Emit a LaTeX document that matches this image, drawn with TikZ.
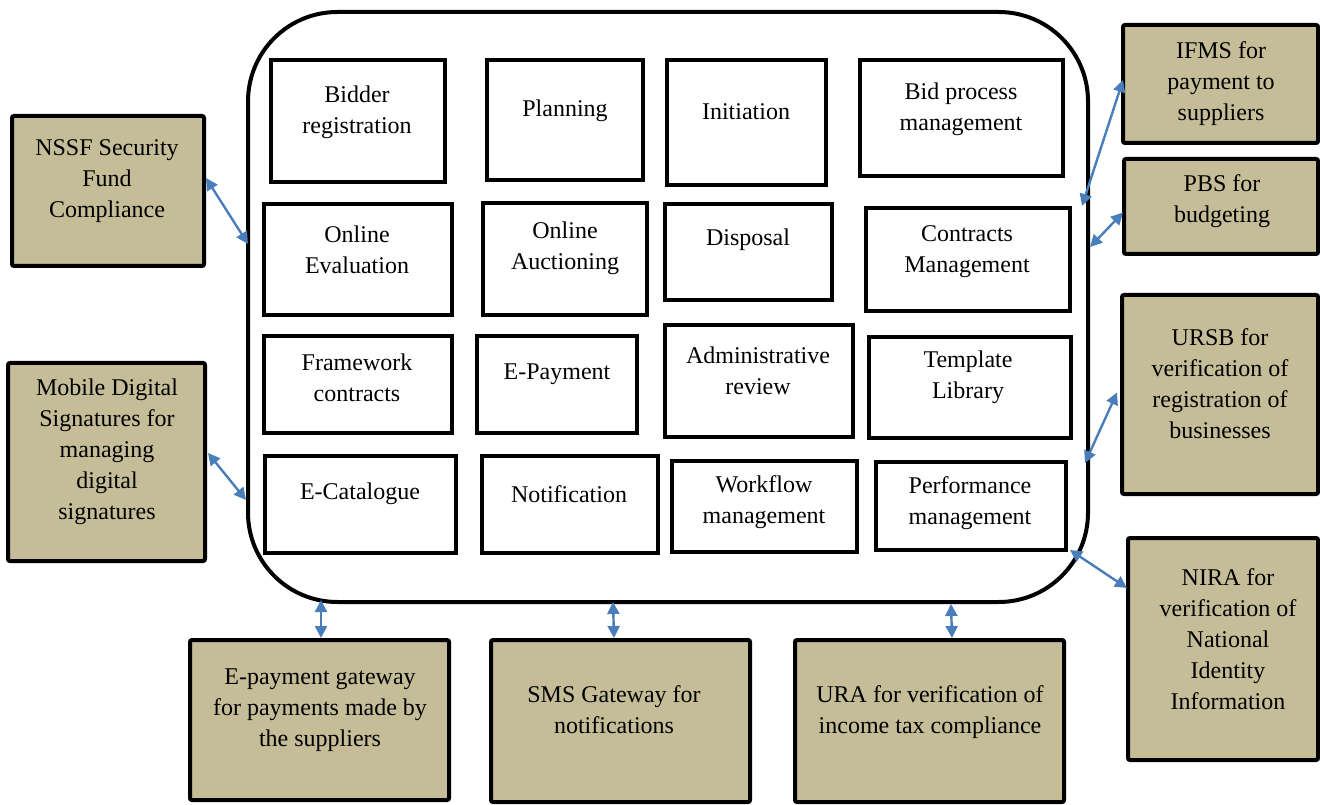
\documentclass[tikz,border=0pt]{standalone}
\usepackage{fontspec}
\setmainfont{Liberation Serif}
\newfontfamily\tnr{Liberation Serif}
\usetikzlibrary{arrows.meta,calc}
\definecolor{tanbg}{RGB}{196,189,151}
\definecolor{arrblue}{RGB}{74,126,187}
\begin{document}
\begin{tikzpicture}[x=0.75pt,y=-0.75pt,
  sz/.style 2 args={minimum width=#1*0.75pt, minimum height=#2*0.75pt},
  inbox/.style={draw=black, line width=2.4pt, inner sep=0pt},
  extbox/.style={draw=black, fill=tanbg, line width=3pt, inner sep=0pt, rounded corners=1.5pt},
  core/.style={draw=black, line width=3pt, inner sep=0pt, rounded corners=67pt},
  txt/.style={align=center, inner sep=0pt, font=\tnr\fontsize{18}{23.3}\selectfont},
  arr/.style={draw=arrblue, line width=1.8pt, {Triangle[length=9pt,width=9pt]}-{Triangle[length=9pt,width=9pt]}}
]
\useasboundingbox (0,0) rectangle (1320,805);

% core container
\node[core, sz={840}{590}] (core) at (668,307) {};

% inner boxes
\node[inbox, sz={174}{122}] (b1) at (358,121) {};
\node[inbox, sz={156}{120}] (b2) at (565,120) {};
\node[inbox, sz={159}{125}] (b3) at (746.5,122.5) {};
\node[inbox, sz={203}{116}] (b4) at (961.5,118) {};

\node[inbox, sz={188}{111}] (b5) at (358,259.5) {};
\node[inbox, sz={164}{112}] (b6) at (565,259) {};
\node[inbox, sz={167}{96}] (b7) at (748.5,252) {};
\node[inbox, sz={204}{103}] (b8) at (968,259.5) {};

\node[inbox, sz={188}{97}] (b9) at (358,384.5) {};
\node[inbox, sz={160}{97}] (b10) at (557,384.5) {};
\node[inbox, sz={188}{112}] (b11) at (759,381) {};
\node[inbox, sz={202}{101}] (b12) at (970,387.5) {};

\node[inbox, sz={191}{97}] (b13) at (360.5,504.5) {};
\node[inbox, sz={176}{97}] (b14) at (570,504.5) {};
\node[inbox, sz={185}{91}] (b15) at (764.5,506.5) {};
\node[inbox, sz={190}{88}] (b16) at (971,506) {};

% inner texts
\node[txt] (t1) at (357,112) {Bidder\\registration};
\node[txt] (t2) at (565,111) {Planning};
\node[txt] (t3) at (746,112) {Initiation};
\node[txt] (t4) at (961,109.5) {Bid process\\management};
\node[txt] (t5) at (357,249.5) {Online\\Evaluation};
\node[txt] (t6) at (565,248.5) {Online\\Auctioning};
\node[txt] (t7) at (748,240) {Disposal};
\node[txt] (t8) at (967,251.5) {Contracts\\Management};
\node[txt] (t9) at (357,377.5) {Framework\\contracts};
\node[txt] (t10) at (557,374) {E-Payment};
\node[txt] (t11) at (758,370.5) {Administrative\\review};
\node[txt] (t12) at (968,377.5) {Template\\Library};
\node[txt] (t13) at (360,494) {E-Catalogue};
\node[txt] (t14) at (569,494) {Notification};
\node[txt] (t15) at (764,502.5) {Workflow\\management};
\node[txt] (t16) at (970,503.5) {Performance\\management};

% external boxes
\node[extbox, sz={192}{150}] (nssf) at (108,191) {};
\node[extbox, sz={197}{198}] (mds) at (106.5,462) {};
\node[extbox, sz={259}{160}] (epg) at (319.5,720) {};
\node[extbox, sz={259}{162}] (sms) at (620.5,721) {};
\node[extbox, sz={269}{162}] (ura) at (929.5,721) {};
\node[extbox, sz={195}{118}] (ifms) at (1220.5,84) {};
\node[extbox, sz={194}{95}] (pbs) at (1221,206.5) {};
\node[extbox, sz={196}{199}] (ursb) at (1220,394.5) {};
\node[extbox, sz={190}{222}] (nira) at (1223,649) {};

\node[txt] (tn) at (107,181.5) {NSSF Security\\Fund\\Compliance};
\node[txt] (tm) at (107,451.5) {Mobile Digital\\Signatures for\\managing\\digital\\signatures};
\node[txt] (te) at (320,710.5) {E-payment gateway\\for payments made by\\the suppliers};
\node[txt] (ts) at (614,709.5) {SMS Gateway for\\notifications};
\node[txt] (tu) at (930,712.5) {URA for verification of\\income tax compliance};
\node[txt] (ti) at (1221,83.5) {IFMS for\\payment to\\suppliers};
\node[txt] (tp) at (1222,201.5) {PBS for\\budgeting};
\node[txt] (tr) at (1220,383.5) {URSB for\\verification of\\registration of\\businesses};
\node[txt] (tq) at (1228,639.5) {NIRA for\\verification of\\National\\Identity\\Information};

% connectors
\draw[arr] ($(nssf.east)+(0,-13)$) -- ($(core.west)+(2,-63)$);
\draw[arr] ($(mds.east)+(1,-9)$) -- ($(core.west)+(0,193)$);
\draw[arr] (epg.north -| 321,0) -- ($(core.south)+(-347,-4)$);
\draw[arr] (sms.north -| 614,0) -- ($(core.south)+(-55,-2)$);
\draw[arr] (ura.north -| 952,0) -- ($(core.south)+(283,0)$);
\draw[arr] ($(ifms.west)+(2,-4)$) -- ($(core.east)+(-8,-101)$);
\draw[arr] ($(pbs.west)+(1,6)$) -- ($(core.east)+(0,-60)$);
\draw[arr] ($(ursb.west)+(-3,-2)$) -- ($(core.east)+(-5,156)$);
\draw[arr] ($(nira.west)+(1,-61)$) -- ($(core.south east)+(-20,-54)$);
\end{tikzpicture}
\end{document}
